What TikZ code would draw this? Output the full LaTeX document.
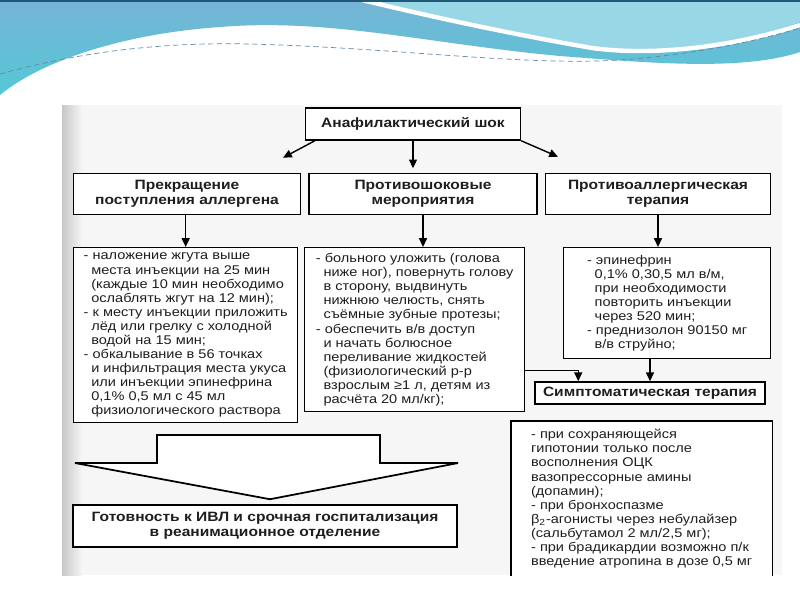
\documentclass[tikz,border=0pt]{standalone}
\usepackage{fontspec}
\setmainfont{Liberation Sans}[FakeStretch=1.15]
\usepackage{tikz}
\usetikzlibrary{arrows.meta,positioning,calc}
\definecolor{wavecyan}{RGB}{84,200,214}
\definecolor{waveblue}{RGB}{118,180,214}
\definecolor{wavelight}{RGB}{152,215,230}
\definecolor{wavedark}{RGB}{30,90,120}
\definecolor{scanbg}{RGB}{246,246,246}
\definecolor{inkgray}{RGB}{30,30,30}
\newcommand{\indnt}{\hspace*{0.6em}}

\begin{document}
\begin{tikzpicture}[x=0.02cm, y=-0.02cm,
    hdr/.style={draw=black, line width=0.9pt, fill=white, align=center,
                inner sep=1pt, font=\bfseries\fontsize{7.7}{8.4}\selectfont,
                text=inkgray},
    txtbox/.style={draw=black, line width=0.8pt, fill=white, align=left,
                   inner sep=3pt, font=\fontsize{7.2}{8}\selectfont,
                   text=inkgray, anchor=north west},
    arrow/.style={-{Triangle[length=5pt,width=4.5pt]}, line width=0.8pt,
                  color=black},
  ]
  \fill[white] (0,0) rectangle (800,600);
  \useasboundingbox (0,0) rectangle (800,600);

  % slide header wave
  \shade[top color=waveblue, bottom color=wavecyan]
    (0,0) -- (800,0) -- (800,52)
    .. controls (740,72) and (640,62) .. (560,56)
    .. controls (430,44) and (330,18) .. (220,27)
    .. controls (120,34) and (40,62) .. (0,95) -- cycle;
  \fill[wavelight] (368,0) -- (800,0) -- (800,22)
    .. controls (730,48) and (650,56) .. (592,46)
    .. controls (500,30) and (420,12) .. (368,0);
  \draw[white, line width=2.5pt] (362,0)
    .. controls (420,14) and (500,32) .. (592,48)
    .. controls (650,56) and (730,48) .. (800,25);
  \draw[wavedark!70, densely dashed, line width=0.4pt] (0,74)
    .. controls (80,52) and (160,42) .. (250,44)
    .. controls (400,48) and (520,66) .. (620,60)
    .. controls (700,54) and (760,40) .. (800,28);
  \fill[wavedark] (0,0) rectangle (800,1.5);

  % scanned page
  \fill[scanbg] (62,105) rectangle (782,575);
  \shade[left color=black!22, right color=scanbg] (62,105) rectangle (82,575);

  % headers
  \node[hdr, minimum width=4.3cm, minimum height=0.64cm] (shock) at (413,124)
    {Анафилактический шок};
  \node[hdr, minimum width=4.54cm, minimum height=0.82cm] (stop) at (187,194)
    {Прекращение\\поступления аллергена};
  \node[hdr, minimum width=4.56cm, minimum height=0.82cm] (antishock) at (423,194)
    {Противошоковые\\мероприятия};
  \node[hdr, minimum width=4.5cm, minimum height=0.82cm] (antiallerg) at (658,194)
    {Противоаллергическая\\терапия};

  % measures
  \node[txtbox, minimum width=4.48cm, minimum height=3.5cm] (tourn) at (73,247)
    {- наложение жгута выше\\
     \indnt места инъекции на 25 мин\\
     \indnt(каждые 10 мин необходимо\\
     \indnt ослаблять жгут на 12 мин);\\
     - к месту инъекции приложить\\
     \indnt лёд или грелку с холодной\\
     \indnt водой на 15 мин;\\
     - обкалывание в 56 точках\\
     \indnt и инфильтрация места укуса\\
     \indnt или инъекции эпинефрина\\
     \indnt 0,1\% 0,5 мл с 45 мл\\
     \indnt физиологического раствора};
  \node[txtbox, minimum width=4.4cm, minimum height=3.28cm] (fluids) at (304,247)
    {- больного уложить (голова\\
     \indnt ниже ног), повернуть голову\\
     \indnt в сторону, выдвинуть\\
     \indnt нижнюю челюсть, снять\\
     \indnt съёмные зубные протезы;\\
     - обеспечить в/в доступ\\
     \indnt и начать болюсное\\
     \indnt переливание жидкостей\\
     \indnt (физиологический р-р\\
     \indnt взрослым ≥1 л, детям из\\
     \indnt расчёта 20 мл/кг);};
  \node[txtbox, minimum width=4.14cm, minimum height=2.22cm] (epi) at (563,247)
    {- эпинефрин\\
     \indnt 0,1\% 0,30,5 мл в/м,\\
     \indnt при необходимости\\
     \indnt повторить инъекции\\
     \indnt через 520 мин;\\
     - преднизолон 90150 мг\\
     \indnt в/в струйно;};

  \node[hdr, minimum width=4.6cm, minimum height=0.44cm] (sympt) at (650,393)
    {Симптоматическая терапия};
  \node[txtbox, draw=none, minimum width=5.2cm, minimum height=3.08cm] (extra)
    at (511,421)
    {- при сохраняющейся\\
     гипотонии только после\\
     восполнения ОЦК\\
     вазопрессорные амины\\
     (допамин);\\
     - при бронхоспазме\\
     β\textsubscript{2}-агонисты через небулайзер\\
     (сальбутамол 2 мл/2,5 мг);\\
     - при брадикардии возможно п/к\\
     введение атропина в дозе 0,5 мг};
  \draw[line width=0.8pt] (extra.south west) -- (extra.north west)
    -- (extra.north east) -- (extra.south east);

  \node[hdr, minimum width=7.68cm, minimum height=0.84cm] (ready) at (265,526)
    {Готовность к ИВЛ и срочная госпитализация\\в реанимационное отделение};

  % connectors
  \draw[arrow] ($(shock.south west)+(10,0)$) -- ($(stop.north)+(96,-15)$);
  \draw[arrow] (shock.south) -- (shock.south |- antishock.north)
    [shorten >=2.5pt];
  \draw[arrow] (shock.south east) -- ($(antiallerg.north)+(-100,-16)$);
  \draw[arrow] (tourn.north |- stop.south) -- (tourn.north);
  \draw[arrow] (antishock.south) -- (antishock.south |- fluids.north);
  \draw[arrow] (antiallerg.south) -- (antiallerg.south |- epi.north);
  \draw[arrow] ($(fluids.south east)+(0,-42)$) -| ($(sympt.north west)+(44,0)$);
  \draw[arrow] (epi.south -| sympt.north) -- (sympt.north);

  % big arrow to hospitalisation
  \coordinate (tip) at ($(ready.north)+(5,-5)$);
  \draw[line width=1pt, fill=white] (157,435) -- (380,435) -- (380,463)
    -- (458,463) -- (tip) -- (75,463) -- (157,463) -- cycle;
\end{tikzpicture}
\end{document}
